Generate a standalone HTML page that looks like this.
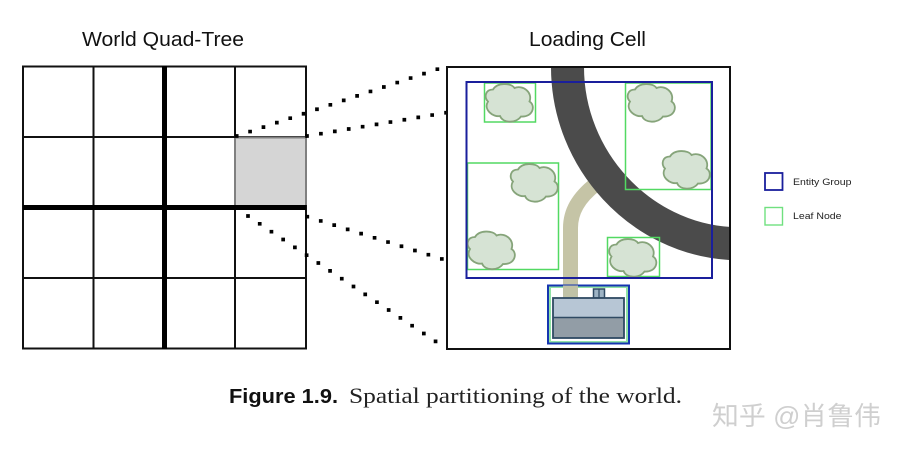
<!DOCTYPE html>
<html>
<head>
<meta charset="utf-8">
<style>
html,body{margin:0;padding:0;background:#fff;width:903px;height:451px;overflow:hidden}
svg{display:block}
</style>
</head>
<body>
<svg width="903" height="451" viewBox="0 0 903 451" xmlns="http://www.w3.org/2000/svg">
<defs>
<path id="c" d="M-21 -1 C-25 -5 -24 -13 -16 -13 C-12 -20 2 -20 5.500 -14.500 C14 -18 24 -10 20.500 -1 C27 3 24 15 12 14 C7 21 -6 21 -9 13.500 C-16 15 -26 7 -21 -1 Z" fill="#d6e3d4" stroke="#86a47a" stroke-width="1.800"/>
</defs>
<rect width="903" height="451" fill="#fff"/>

<!-- left grid -->
<rect x="235" y="137" width="71" height="70.500" fill="#d5d5d5"/>
<g stroke="#111" fill="none">
<rect x="23" y="66.500" width="283" height="282" stroke-width="2"/>
<path d="M93.500 66V349M235 66V349M23 137H306M23 278H306" stroke-width="2"/>
<path d="M164.500 66V349M23 207.500H306" stroke-width="5" stroke="#000"/>
</g>
<path d="M235 137.500H306M235 138V205M306 138V205" stroke="#808080" stroke-width="2" fill="none"/>

<!-- dotted -->
<g stroke="#000" stroke-width="3.700" fill="none" stroke-dasharray="0 14.100" stroke-linecap="square">
<path d="M236.700 136L438.500 68.800"/>
<path d="M307 136L447.500 112.500"/>
<path d="M307.300 216.700L443 259.300"/>
<path d="M248 216L436.500 342"/>
</g>

<!-- right box -->
<path d="M570.500 298 V228 C570.500 212 578 198 596 184" fill="none" stroke="#c5c4a6" stroke-width="15"/>
<path d="M567.500 67 C567.500 160 640 238 730 243.500" fill="none" stroke="#4b4b4b" stroke-width="33"/>
<rect x="447" y="67" width="283" height="282" fill="none" stroke="#111" stroke-width="2"/>

<g fill="none" stroke="#52d962" stroke-width="1.500">
<rect x="484.500" y="83" width="51" height="39"/>
<rect x="625.500" y="83" width="85.500" height="106.500"/>
<rect x="467.500" y="163" width="91" height="106.500"/>
<rect x="607.500" y="237.500" width="52" height="39"/>
</g>

<use href="#c" x="509" y="102.500"/>
<use href="#c" x="651" y="102.500"/>
<use href="#c" x="686" y="169.500"/>
<use href="#c" x="534" y="182.500"/>
<use href="#c" x="491" y="250"/>
<use href="#c" x="632.500" y="257.500"/>

<rect x="466.500" y="82" width="245.500" height="196" fill="none" stroke="#1a1f9c" stroke-width="2"/>

<!-- building -->
<rect x="550" y="287" width="77" height="55" fill="none" stroke="#8fe3a5" stroke-width="2"/>
<rect x="548" y="285.500" width="81" height="58" fill="none" stroke="#1535b0" stroke-width="2"/>
<rect x="563" y="285.500" width="15" height="12" fill="#c0c2a6"/>
<rect x="593.500" y="289" width="11" height="9" fill="#9db3c4" stroke="#2f4a63" stroke-width="1.500"/>
<path d="M599 289V298" stroke="#2f4a63" stroke-width="1.200"/>
<rect x="553" y="298" width="71" height="20" fill="#b7c6d5"/>
<rect x="553" y="318" width="71" height="20" fill="#929da6"/>
<rect x="553" y="298" width="71" height="40" fill="none" stroke="#2f4a63" stroke-width="1.800"/>
<path d="M553 317.500H624" stroke="#2f4a63" stroke-width="1.600"/>

<!-- legend -->
<rect x="765" y="173" width="17.500" height="17" fill="none" stroke="#1a1f9c" stroke-width="1.800"/>
<rect x="765" y="207.500" width="17.500" height="17.500" fill="none" stroke="#70e07f" stroke-width="1.400"/>
<g font-family="'Liberation Sans',sans-serif" font-size="9.500" fill="#222">
<text x="793" y="185" textLength="58.500" lengthAdjust="spacingAndGlyphs">Entity Group</text>
<text x="793" y="219" textLength="48.500" lengthAdjust="spacingAndGlyphs">Leaf Node</text>
</g>

<!-- titles -->
<g font-family="'Liberation Sans',sans-serif" font-size="20.500" fill="#111">
<text x="82" y="46" textLength="162" lengthAdjust="spacingAndGlyphs">World Quad-Tree</text>
<text x="529" y="46" textLength="117" lengthAdjust="spacingAndGlyphs">Loading Cell</text>
</g>

<!-- caption -->
<text x="229" y="403" font-family="'Liberation Sans',sans-serif" font-weight="bold" font-size="20.500" fill="#111" textLength="109" lengthAdjust="spacingAndGlyphs">Figure 1.9.</text>
<text x="349" y="403" font-family="'Liberation Serif',serif" font-size="22" fill="#222" textLength="333" lengthAdjust="spacingAndGlyphs">Spatial partitioning of the world.</text>

<!-- watermark -->
<text x="712" y="425" font-family="'Liberation Sans','Noto Sans CJK SC',sans-serif" font-size="26" fill="#cfcfcf" textLength="169" lengthAdjust="spacingAndGlyphs">知乎 @肖鲁伟</text>
</svg>
</body>
</html>
